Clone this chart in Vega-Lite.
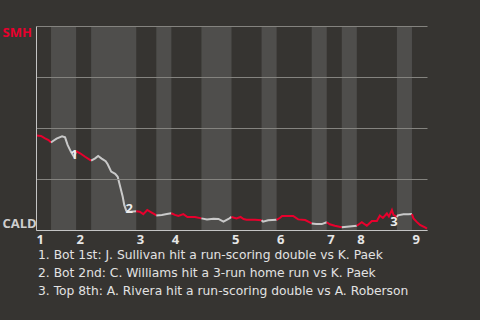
{
  "$schema": "https://vega.github.io/schema/vega-lite/v6.json",
  "width": 391,
  "height": 204,
  "autosize": {"type": "none"},
  "padding": {"left": 36, "top": 26, "right": 53, "bottom": 90},
  "background": "#363431",
  "config": {"view": {"stroke": null}, "font": "Open Sans"},
  "title": {
    "text": ["1. Bot 1st: J. Sullivan hit a run-scoring double vs K. Paek", "2. Bot 2nd: C. Williams hit a 3-run home run vs K. Paek", "3. Top 8th: A. Rivera hit a run-scoring double vs A. Roberson"],
    "orient": "bottom",
    "anchor": "start",
    "frame": "group",
    "align": "left",
    "dx": 2,
    "offset": 3,
    "fontSize": 12.3,
    "fontWeight": "normal",
    "lineHeight": 18,
    "color": "#e2e2e2",
    "font": "DejaVu Sans"
  },
  "datasets": {
    "bands": [
      {"start": 3, "end": 8}, {"start": 11, "end": 20}, {"start": 24, "end": 27}, {"start": 33, "end": 39},
      {"start": 45, "end": 48}, {"start": 55, "end": 58}, {"start": 61, "end": 64}, {"start": 72, "end": 75}
    ],
    "wp": [
      {"x": 0.1, "wp": 0.463, "half": "T1", "side": "top"},
      {"x": 1.0, "wp": 0.461, "half": "T1", "side": "top"},
      {"x": 1.8, "wp": 0.449, "half": "T1", "side": "top"},
      {"x": 2.5, "wp": 0.441, "half": "T1", "side": "top"},
      {"x": 3.0, "wp": 0.429, "half": "T1", "side": "top"},
      {"x": 3.0, "wp": 0.429, "half": "B1", "side": "bot"},
      {"x": 3.4, "wp": 0.436, "half": "B1", "side": "bot"},
      {"x": 4.1, "wp": 0.448, "half": "B1", "side": "bot"},
      {"x": 5.2, "wp": 0.459, "half": "B1", "side": "bot"},
      {"x": 5.8, "wp": 0.454, "half": "B1", "side": "bot"},
      {"x": 6.3, "wp": 0.417, "half": "B1", "side": "bot"},
      {"x": 7.0, "wp": 0.382, "half": "B1", "side": "bot"},
      {"x": 7.6, "wp": 0.358, "half": "B1", "side": "bot"},
      {"x": 8.0, "wp": 0.387, "half": "B1", "side": "bot"},
      {"x": 8.0, "wp": 0.387, "half": "T2", "side": "top"},
      {"x": 8.8, "wp": 0.376, "half": "T2", "side": "top"},
      {"x": 9.8, "wp": 0.359, "half": "T2", "side": "top"},
      {"x": 11.0, "wp": 0.340, "half": "T2", "side": "top"},
      {"x": 11.0, "wp": 0.340, "half": "B2", "side": "bot"},
      {"x": 11.8, "wp": 0.351, "half": "B2", "side": "bot"},
      {"x": 12.4, "wp": 0.363, "half": "B2", "side": "bot"},
      {"x": 13.1, "wp": 0.350, "half": "B2", "side": "bot"},
      {"x": 13.9, "wp": 0.337, "half": "B2", "side": "bot"},
      {"x": 14.3, "wp": 0.322, "half": "B2", "side": "bot"},
      {"x": 15.0, "wp": 0.286, "half": "B2", "side": "bot"},
      {"x": 15.8, "wp": 0.275, "half": "B2", "side": "bot"},
      {"x": 16.3, "wp": 0.261, "half": "B2", "side": "bot"},
      {"x": 16.8, "wp": 0.212, "half": "B2", "side": "bot"},
      {"x": 17.3, "wp": 0.163, "half": "B2", "side": "bot"},
      {"x": 17.6, "wp": 0.123, "half": "B2", "side": "bot"},
      {"x": 18.0, "wp": 0.095, "half": "B2", "side": "bot"},
      {"x": 18.8, "wp": 0.090, "half": "B2", "side": "bot"},
      {"x": 20.0, "wp": 0.092, "half": "B2", "side": "bot"},
      {"x": 20.0, "wp": 0.092, "half": "T3", "side": "top"},
      {"x": 20.7, "wp": 0.090, "half": "T3", "side": "top"},
      {"x": 21.4, "wp": 0.078, "half": "T3", "side": "top"},
      {"x": 22.2, "wp": 0.098, "half": "T3", "side": "top"},
      {"x": 22.9, "wp": 0.088, "half": "T3", "side": "top"},
      {"x": 23.7, "wp": 0.077, "half": "T3", "side": "top"},
      {"x": 24.0, "wp": 0.071, "half": "T3", "side": "top"},
      {"x": 24.0, "wp": 0.071, "half": "B3", "side": "bot"},
      {"x": 25.1, "wp": 0.074, "half": "B3", "side": "bot"},
      {"x": 26.1, "wp": 0.078, "half": "B3", "side": "bot"},
      {"x": 27.0, "wp": 0.082, "half": "B3", "side": "bot"},
      {"x": 27.0, "wp": 0.082, "half": "T4", "side": "top"},
      {"x": 27.7, "wp": 0.074, "half": "T4", "side": "top"},
      {"x": 28.4, "wp": 0.069, "half": "T4", "side": "top"},
      {"x": 29.4, "wp": 0.078, "half": "T4", "side": "top"},
      {"x": 30.2, "wp": 0.064, "half": "T4", "side": "top"},
      {"x": 31.7, "wp": 0.064, "half": "T4", "side": "top"},
      {"x": 33.0, "wp": 0.057, "half": "T4", "side": "top"},
      {"x": 33.0, "wp": 0.057, "half": "B4", "side": "bot"},
      {"x": 34.1, "wp": 0.052, "half": "B4", "side": "bot"},
      {"x": 35.4, "wp": 0.055, "half": "B4", "side": "bot"},
      {"x": 36.4, "wp": 0.054, "half": "B4", "side": "bot"},
      {"x": 37.4, "wp": 0.041, "half": "B4", "side": "bot"},
      {"x": 38.4, "wp": 0.054, "half": "B4", "side": "bot"},
      {"x": 39.0, "wp": 0.064, "half": "B4", "side": "bot"},
      {"x": 39.0, "wp": 0.064, "half": "T5", "side": "top"},
      {"x": 40.0, "wp": 0.057, "half": "T5", "side": "top"},
      {"x": 40.8, "wp": 0.064, "half": "T5", "side": "top"},
      {"x": 41.4, "wp": 0.054, "half": "T5", "side": "top"},
      {"x": 42.0, "wp": 0.050, "half": "T5", "side": "top"},
      {"x": 43.7, "wp": 0.050, "half": "T5", "side": "top"},
      {"x": 45.0, "wp": 0.048, "half": "T5", "side": "top"},
      {"x": 45.0, "wp": 0.048, "half": "B5", "side": "bot"},
      {"x": 45.3, "wp": 0.041, "half": "B5", "side": "bot"},
      {"x": 46.3, "wp": 0.048, "half": "B5", "side": "bot"},
      {"x": 48.0, "wp": 0.050, "half": "B5", "side": "bot"},
      {"x": 48.0, "wp": 0.050, "half": "T6", "side": "top"},
      {"x": 48.7, "wp": 0.060, "half": "T6", "side": "top"},
      {"x": 49.1, "wp": 0.069, "half": "T6", "side": "top"},
      {"x": 51.3, "wp": 0.069, "half": "T6", "side": "top"},
      {"x": 52.3, "wp": 0.052, "half": "T6", "side": "top"},
      {"x": 53.7, "wp": 0.049, "half": "T6", "side": "top"},
      {"x": 55.0, "wp": 0.032, "half": "T6", "side": "top"},
      {"x": 55.0, "wp": 0.032, "half": "B6", "side": "bot"},
      {"x": 55.9, "wp": 0.030, "half": "B6", "side": "bot"},
      {"x": 57.0, "wp": 0.029, "half": "B6", "side": "bot"},
      {"x": 58.0, "wp": 0.038, "half": "B6", "side": "bot"},
      {"x": 58.0, "wp": 0.038, "half": "T7", "side": "top"},
      {"x": 58.6, "wp": 0.028, "half": "T7", "side": "top"},
      {"x": 59.6, "wp": 0.021, "half": "T7", "side": "top"},
      {"x": 61.0, "wp": 0.013, "half": "T7", "side": "top"},
      {"x": 61.0, "wp": 0.013, "half": "B7", "side": "bot"},
      {"x": 62.0, "wp": 0.016, "half": "B7", "side": "bot"},
      {"x": 64.0, "wp": 0.021, "half": "B7", "side": "bot"},
      {"x": 64.0, "wp": 0.021, "half": "T8", "side": "top"},
      {"x": 65.0, "wp": 0.038, "half": "T8", "side": "top"},
      {"x": 66.0, "wp": 0.021, "half": "T8", "side": "top"},
      {"x": 67.0, "wp": 0.044, "half": "T8", "side": "top"},
      {"x": 68.0, "wp": 0.044, "half": "T8", "side": "top"},
      {"x": 68.6, "wp": 0.071, "half": "T8", "side": "top"},
      {"x": 69.2, "wp": 0.059, "half": "T8", "side": "top"},
      {"x": 70.0, "wp": 0.081, "half": "T8", "side": "top"},
      {"x": 70.4, "wp": 0.066, "half": "T8", "side": "top"},
      {"x": 71.0, "wp": 0.098, "half": "T8", "side": "top"},
      {"x": 71.3, "wp": 0.074, "half": "T8", "side": "top"},
      {"x": 72.0, "wp": 0.064, "half": "T8", "side": "top"},
      {"x": 72.0, "wp": 0.064, "half": "B8", "side": "bot"},
      {"x": 72.2, "wp": 0.072, "half": "B8", "side": "bot"},
      {"x": 73.3, "wp": 0.077, "half": "B8", "side": "bot"},
      {"x": 74.3, "wp": 0.077, "half": "B8", "side": "bot"},
      {"x": 75.0, "wp": 0.078, "half": "B8", "side": "bot"},
      {"x": 75.0, "wp": 0.078, "half": "T9", "side": "top"},
      {"x": 75.3, "wp": 0.057, "half": "T9", "side": "top"},
      {"x": 75.9, "wp": 0.041, "half": "T9", "side": "top"},
      {"x": 76.6, "wp": 0.025, "half": "T9", "side": "top"},
      {"x": 77.6, "wp": 0.013, "half": "T9", "side": "top"},
      {"x": 78.0, "wp": 0.007, "half": "T9", "side": "top"}
    ],
    "events": [
      {"x": 7.6, "wp": 0.368, "label": "1"},
      {"x": 18.6, "wp": 0.103, "label": "2"},
      {"x": 71.4, "wp": 0.039, "label": "3"}
    ]
  },
  "layer": [
    {
      "data": {"name": "bands"},
      "mark": {"type": "rect", "color": "#4f4e4c"},
      "encoding": {
        "x": {
          "field": "start", "type": "quantitative",
          "scale": {"domain": [0, 78], "nice": false, "zero": false},
          "axis": {
            "values": [0, 8, 20, 27, 39, 48, 58, 64, 75],
            "labelExpr": "indexof([0, 8, 20, 27, 39, 48, 58, 64, 75], datum.value) + 1",
            "title": null,
            "ticks": false,
            "grid": false,
            "domainColor": "#c4c4c4",
            "labelAlign": "left",
            "labelFlush": false,
            "labelPadding": 3,
            "labelFont": "Open Sans",
            "labelFontSize": 13,
            "labelFontWeight": "bold",
            "labelColor": "#e6e6e6",
            "zindex": 1
          }
        },
        "x2": {"field": "end"}
      }
    },
    {
      "data": {"name": "wp"},
      "mark": {"type": "line", "strokeWidth": 2, "interpolate": "linear"},
      "encoding": {
        "x": {"field": "x", "type": "quantitative"},
        "y": {
          "field": "wp", "type": "quantitative",
          "scale": {"domain": [0, 1], "nice": false},
          "axis": {
            "values": [0, 0.25, 0.5, 0.75, 1],
            "labelExpr": "datum.value == 1 ? 'SMH' : (datum.value == 0 ? 'CALD' : '')",
            "labelColor": {"expr": "datum.value == 1 ? '#e8002d' : '#cfcfcf'"},
            "labelFlush": true,
            "labelFlushOffset": 0,
            "labelAlign": "left",
            "labelPadding": 34,
            "labelFont": "Open Sans",
            "labelFontSize": 13,
            "labelFontWeight": "bold",
            "ticks": false,
            "grid": true,
            "gridColor": "#84837f",
            "gridWidth": 1,
            "domainColor": "#c4c4c4",
            "title": null,
            "zindex": 1
          }
        },
        "detail": {"field": "half"},
        "color": {
          "field": "side", "type": "nominal",
          "scale": {"domain": ["top", "bot"], "range": ["#e8002d", "#c9c9c9"]},
          "legend": null
        }
      }
    },
    {
      "data": {"name": "events"},
      "mark": {"type": "text", "font": "Open Sans", "fontSize": 13, "fontWeight": "bold", "color": "#ececec"},
      "encoding": {
        "x": {"field": "x", "type": "quantitative"},
        "y": {"field": "wp", "type": "quantitative"},
        "text": {"field": "label"}
      }
    }
  ]
}
